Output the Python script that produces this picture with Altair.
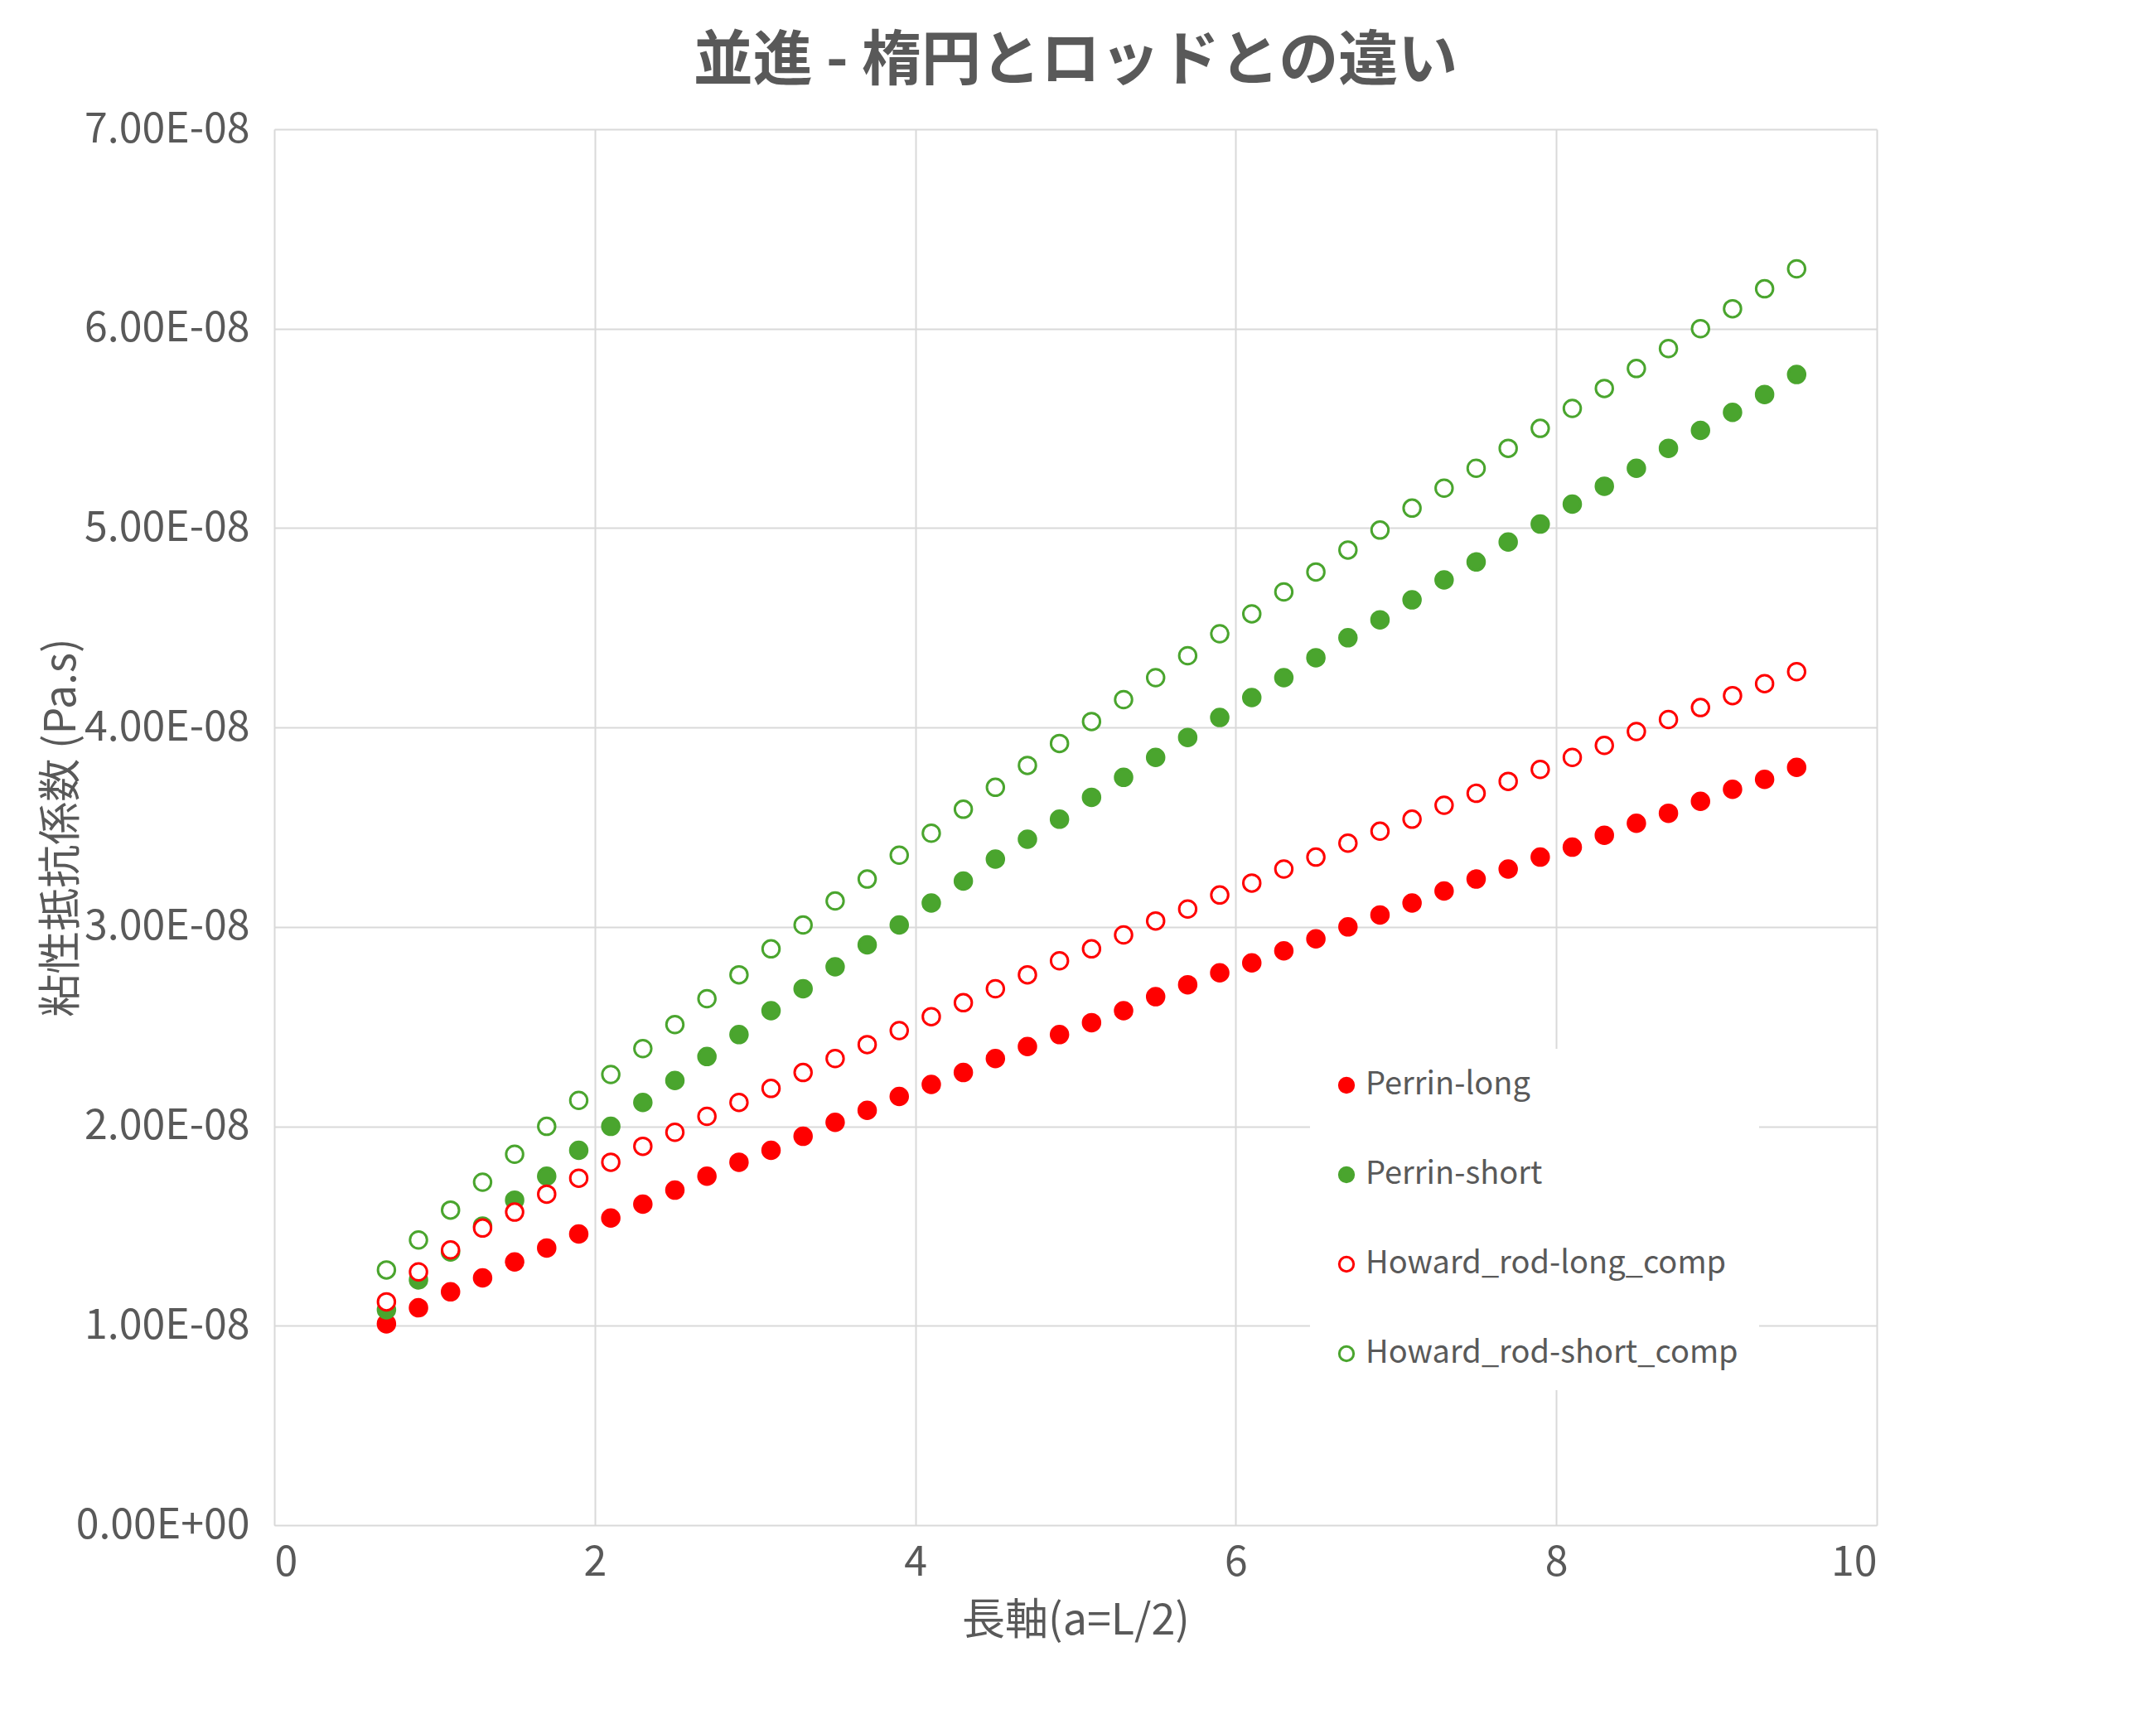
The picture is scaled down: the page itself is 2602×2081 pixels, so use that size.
import altair as alt
import pandas as pd

x = [round(0.7 + 0.2*i, 1) for i in range(45)]
perrin_long = [1.01,1.09,1.17,1.24,1.32,1.39,1.46,1.54,1.61,1.68,1.75,1.82,1.88,1.95,2.02,2.08,2.15,2.21,2.27,2.34,2.40,2.46,2.52,2.58,2.65,2.71,2.77,2.82,2.88,2.94,3.00,3.06,3.12,3.18,3.24,3.29,3.35,3.40,3.46,3.52,3.57,3.63,3.69,3.74,3.80]
perrin_short = [1.08,1.23,1.37,1.50,1.63,1.75,1.88,2.00,2.12,2.23,2.35,2.46,2.58,2.69,2.80,2.91,3.01,3.12,3.23,3.34,3.44,3.54,3.65,3.75,3.85,3.95,4.05,4.15,4.25,4.35,4.45,4.54,4.64,4.74,4.83,4.93,5.02,5.12,5.21,5.30,5.40,5.49,5.58,5.67,5.77]
howard_long = [1.12,1.27,1.38,1.49,1.57,1.66,1.74,1.82,1.90,1.97,2.05,2.12,2.19,2.27,2.34,2.41,2.48,2.55,2.62,2.69,2.76,2.83,2.89,2.96,3.03,3.09,3.16,3.22,3.29,3.35,3.42,3.48,3.54,3.61,3.67,3.73,3.79,3.85,3.91,3.98,4.04,4.10,4.16,4.22,4.28]
howard_short = [1.28,1.43,1.58,1.72,1.86,2.00,2.13,2.26,2.39,2.51,2.64,2.76,2.89,3.01,3.13,3.24,3.36,3.47,3.59,3.70,3.81,3.92,4.03,4.14,4.25,4.36,4.47,4.57,4.68,4.78,4.89,4.99,5.10,5.20,5.30,5.40,5.50,5.60,5.70,5.80,5.90,6.00,6.10,6.20,6.30]

names = ["Perrin-long", "Perrin-short", "Howard_rod-long_comp", "Howard_rod-short_comp"]
colors = ["#ff0000", "#4aa52e", "#ff0000", "#4aa52e"]
fills = ["#ff0000", "#4aa52e", "white", "white"]

rows = []
for n, ys in zip(names, [perrin_long, perrin_short, howard_long, howard_short]):
    for xi, yi in zip(x, ys):
        rows.append({"x": xi, "y": yi * 1e-8, "series": n})
df = pd.DataFrame(rows)

font = "Noto Sans CJK JP"
chart = alt.Chart(df).mark_point(size=420, strokeWidth=3, opacity=1, shape="circle").encode(
    x=alt.X("x:Q", scale=alt.Scale(domain=[0, 10]),
            axis=alt.Axis(title="長軸(a=L/2)", values=[0, 2, 4, 6, 8, 10], grid=True,
                          labelFontSize=50, titleFontSize=52, labelColor="#595959",
                          titleColor="#595959", titleFontWeight="normal", labelPadding=20, titlePadding=20,
                          ticks=False, domainColor="#d9d9d9", gridColor="#d9d9d9", gridWidth=2)),
    y=alt.Y("y:Q", scale=alt.Scale(domain=[0, 7e-8]),
            axis=alt.Axis(title="粘性抵抗係数 (Pa.s)", values=[i*1e-8 for i in range(8)],
                          labelExpr="datum.value == 0 ? '0.00E+00' : format(datum.value*1e8, '.2f') + 'E-08'",
                          labelFontSize=50, titleFontSize=52, labelColor="#595959", labelLimit=600,
                          titleColor="#595959", titleFontWeight="normal", labelPadding=30, titlePadding=30,
                          ticks=False, domainColor="#d9d9d9", gridColor="#d9d9d9", gridWidth=2)),
    color=alt.Color("series:N", scale=alt.Scale(domain=names, range=colors),
                    legend=alt.Legend(title=None, orient="none", legendX=1250, legendY=1110,
                                      labelFontSize=38, labelColor="#595959", rowPadding=70,
                                      fillColor="white", padding=25, symbolSize=300,
                                      symbolStrokeWidth=3, labelLimit=600)),
    fill=alt.Fill("series:N", scale=alt.Scale(domain=names, range=fills), legend=None),
).properties(
    width=1934, height=1685,
    title=alt.TitleParams("並進 - 楕円とロッドとの違い", fontSize=72, font=font, fontWeight="bold",
                          color="#595959", offset=20),
    padding={"left": 40, "top": 30, "right": 60, "bottom": 20},
).configure(font=font).configure_view(stroke=None)

chart.save("out.html", embed_options={"renderer": "svg", "actions": False})
